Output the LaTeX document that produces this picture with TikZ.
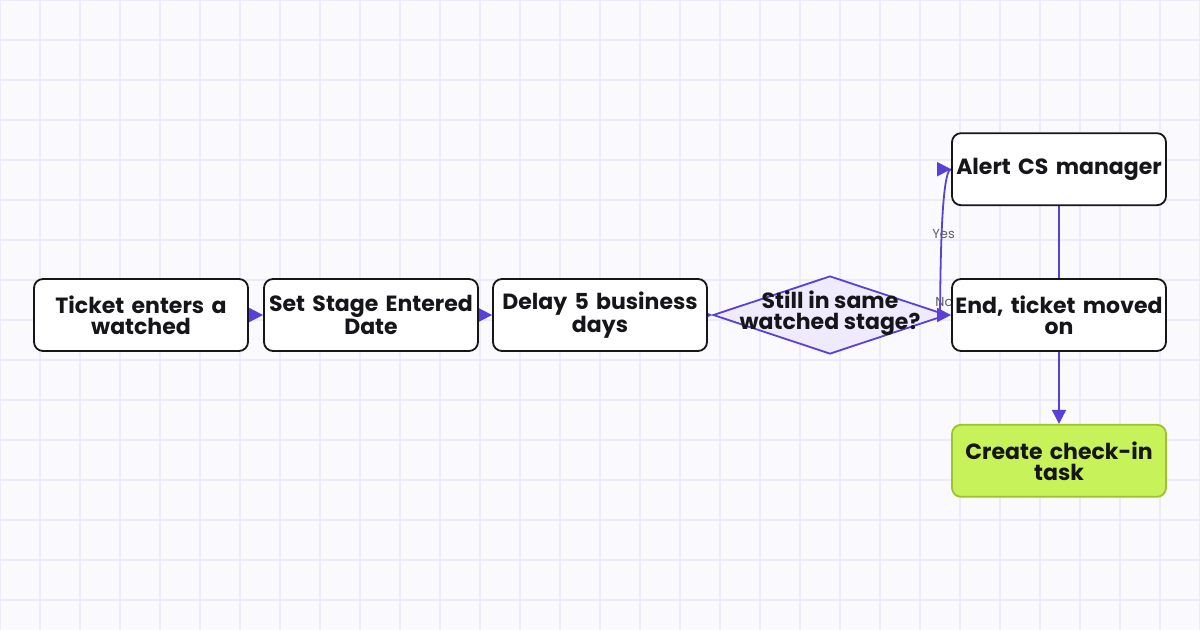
\documentclass[tikz,border=0pt]{standalone}
\usepackage{fontspec}
\setmainfont{Poppins}
\usetikzlibrary{positioning, shapes.geometric, arrows.meta, decorations.markings}

\definecolor{paperc}{HTML}{FAFAFE}
\definecolor{gridc}{HTML}{ECEBF8}
\definecolor{flowc}{HTML}{5B3FD9}
\definecolor{decfill}{HTML}{EFEBFC}
\definecolor{inkc}{HTML}{15151A}
\definecolor{taskfill}{HTML}{C7F25A}
\definecolor{taskline}{HTML}{9CC22C}
\definecolor{labelc}{HTML}{5E5E6E}

\pgfdeclarelayer{grid}
\pgfdeclarelayer{shapes}
\pgfdeclarelayer{edges}
\pgfsetlayers{grid,shapes,edges,main}

\tikzset{
  stepbox/.style={draw=inkc, line width=1.8pt, fill=white, rounded corners=9pt,
    minimum height=72pt, text width=212pt, align=center, inner sep=1pt,
    font=\bfseries\fontsize{22}{21}\selectfont, text=inkc},
  taskbox/.style={stepbox, draw=taskline, fill=taskfill},
  decision/.style={diamond, draw=flowc, line width=1.8pt, fill=decfill,
    minimum width=234pt, minimum height=78pt, inner sep=0pt},
  flow/.style={draw=flowc, line width=1.8pt, -{Triangle[length=14pt,width=14pt]}},
  flowline/.style={draw=flowc, color=flowc, line width=1.8pt},
  tipatend/.style={postaction={decorate}, decoration={markings,
    mark=at position 1 with {\arrow{Triangle[length=14pt,width=14pt]}}}},
  edgelabel/.style={font=\fontsize{13}{13}\selectfont, text=labelc, inner sep=1pt},
}

\begin{document}
\begin{tikzpicture}[x=1pt, y=-1pt]
    \useasboundingbox (0,0) rectangle (1200,630);
    \begin{pgfonlayer}{grid}
      \fill[paperc] (0,0) rectangle (1200,630);
      \foreach \x in {0,40,...,1200}
        \draw[gridc, line width=1.2pt] (\x,0) -- (\x,630);
      \foreach \y in {0,40,...,640}
        \draw[gridc, line width=1.2pt] (0,\y) -- (1200,\y);
    \end{pgfonlayer}

    \node[stepbox] (enter) at (141,315) {Ticket enters a\\watched};
    \node[stepbox] (setdate) at (371,315) {Set Stage Entered\\Date};
    \node[stepbox] (delay) at (600,315) {Delay 5 business\\days};
    \begin{pgfonlayer}{shapes}
      \node[decision,
        label={[font=\bfseries\fontsize{22}{21}\selectfont, text=inkc, align=center,
          yshift=2pt]center:Still in same\\watched stage?}] (still) at (830,315) {};
    \end{pgfonlayer}
    \node[stepbox] (moved) at (1059,315) {End, ticket moved\\on};
    \node[stepbox, above=72pt of moved] (alert) {Alert CS manager};
    \node[taskbox, below=72pt of moved] (checkin) {Create check-in\\task};

    \begin{pgfonlayer}{edges}
      \draw[flow] (enter) -- (setdate);
      \draw[flow] (setdate) -- (delay);
      \draw[flow] (delay) -- (still.west);
      \draw[flowline, tipatend] ([xshift=-8pt]still.east) to[out=87, in=180, looseness=0.2]
        node[edgelabel, pos=0.52, xshift=2pt] {Yes} (alert.west);
      \draw[flow] (still.east) -- node[edgelabel, at end, xshift=-7pt, yshift=13pt] {No} (moved.west);
      \draw[flowline] (alert) -- (moved);
      \draw[flow] (moved) -- (checkin);
    \end{pgfonlayer}
  \end{tikzpicture}
\end{document}
